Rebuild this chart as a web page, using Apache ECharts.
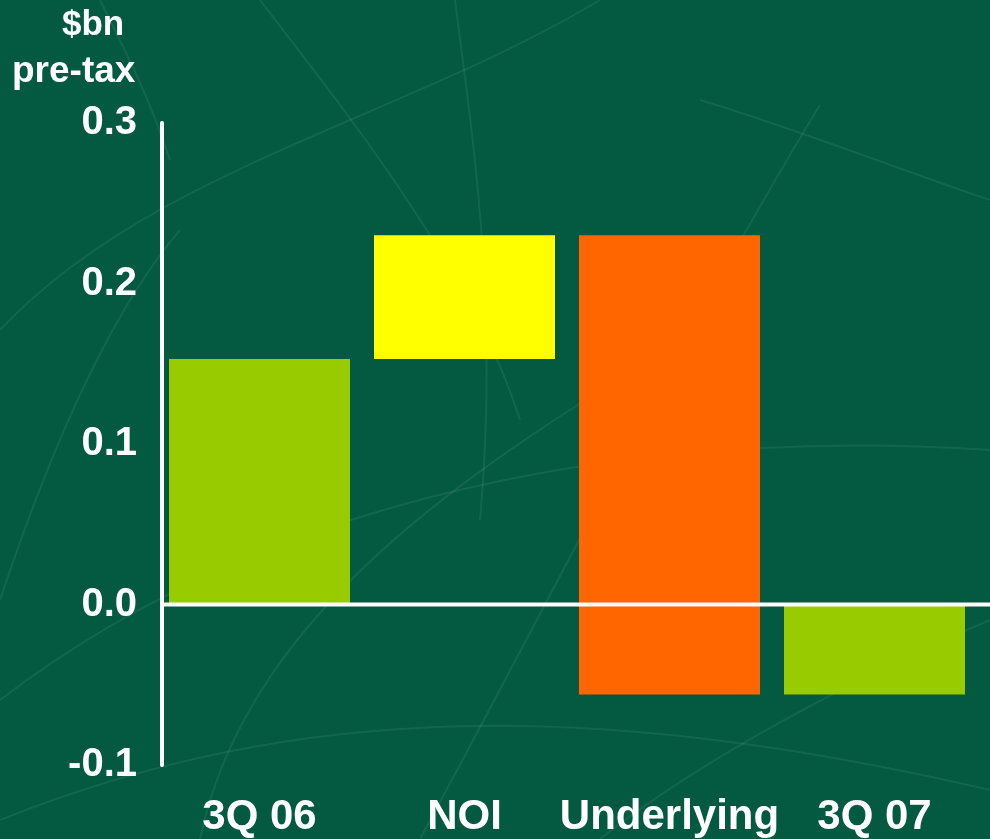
<!DOCTYPE html>
<html>
<head>
<meta charset="utf-8">
<script src="https://cdn.jsdelivr.net/npm/echarts@6/dist/echarts.min.js"></script>
<style>
  html, body { margin: 0; padding: 0; background: #035a41; }
  #chart { width: 990px; height: 839px; }
</style>
</head>
<body>
<div id="chart"></div>
<script>
// waterfall steps: each bar runs from low to high
var categories = ["3Q 06", "NOI", "Underlying", "3Q 07"];
var lows = [0, 0.153, -0.056, -0.056];
var highs = [0.153, 0.230, 0.230, 0];
var barColors = ["#99cc00", "#ffff00", "#ff6600", "#99cc00"];
var yTicks = [-0.1, 0.0, 0.1, 0.2, 0.3];

var myChart = echarts.init(document.getElementById("chart"));

// split each step into a transparent base plus a positive and a negative part
var baseData = [], posData = [], negData = [];
for (var i = 0; i < categories.length; i++) {
  var lo = lows[i], hi = highs[i];
  if (lo >= 0) {
    baseData.push(lo);
    posData.push({ value: +(hi - lo).toFixed(4), itemStyle: { color: barColors[i] } });
    negData.push("-");
  } else if (hi <= 0) {
    baseData.push(hi);
    posData.push("-");
    negData.push({ value: +(lo - hi).toFixed(4), itemStyle: { color: barColors[i] } });
  } else {
    baseData.push(0);
    posData.push({ value: hi, itemStyle: { color: barColors[i] } });
    negData.push({ value: lo, itemStyle: { color: barColors[i] } });
  }
}

var font = "Liberation Sans, Arial, sans-serif";
var faint = "rgba(255,255,255,0.07)";

function curve(x1, y1, cx1, cy1, cx2, cy2, x2, y2) {
  return {
    type: "bezierCurve",
    silent: true,
    z: -10,
    shape: { x1: x1, y1: y1, cpx1: cx1, cpy1: cy1, cpx2: cx2, cpy2: cy2, x2: x2, y2: y2 },
    style: { stroke: faint, lineWidth: 2, fill: null }
  };
}

var option = {
  backgroundColor: "#035a41",
  animation: false,
  grid: { left: 157, right: 13, top: 123, bottom: 74 },
  xAxis: {
    type: "category",
    data: categories,
    axisLine: { show: false },
    axisTick: { show: false },
    axisLabel: {
      color: "#ffffff",
      fontFamily: font,
      fontWeight: "bold",
      fontSize: 42,
      margin: 31,
      interval: 0
    }
  },
  yAxis: {
    type: "value",
    min: -0.1,
    max: 0.3,
    interval: 0.1,
    offset: -5,
    axisLine: { show: true, lineStyle: { color: "#ffffff", width: 4 } },
    axisTick: { show: false },
    splitLine: { show: false },
    axisLabel: {
      color: "#ffffff",
      fontFamily: font,
      fontWeight: "bold",
      fontSize: 40,
      margin: 25,
      formatter: function (v) { return v.toFixed(1); }
    }
  },
  series: [
    {
      type: "bar",
      stack: "w",
      barWidth: 181,
      data: baseData,
      itemStyle: { color: "transparent" },
      silent: true
    },
    {
      type: "bar",
      stack: "w",
      barWidth: 181,
      data: posData
    },
    {
      type: "bar",
      stack: "w",
      barWidth: 181,
      data: negData
    }
  ],
  graphic: [
    curve(100, 0, 130, 60, 150, 100, 170, 160),
    curve(260, 0, 320, 80, 470, 260, 520, 420),
    curve(455, 0, 470, 120, 500, 300, 480, 520),
    curve(0, 330, 150, 170, 400, 120, 600, 0),
    curve(200, 839, 250, 600, 500, 450, 700, 330),
    curve(820, 105, 700, 300, 550, 600, 420, 839),
    curve(0, 700, 300, 470, 700, 430, 990, 450),
    curve(0, 820, 300, 700, 600, 700, 990, 790),
    curve(600, 839, 700, 760, 850, 680, 990, 620),
    curve(0, 600, 60, 420, 120, 300, 180, 230),
    curve(990, 200, 900, 170, 800, 130, 700, 100),
    {
      type: "text",
      left: 62,
      top: 8,
      style: { text: "$bn", fill: "#ffffff", font: "bold 35px " + font }
    },
    {
      type: "text",
      left: 12,
      top: 53,
      style: { text: "pre-tax", fill: "#ffffff", font: "bold 37px " + font }
    }
  ]
};

myChart.setOption(option);

// zero line runs from the y axis to the right edge of the page
var zeroY = myChart.convertToPixel({ yAxisIndex: 0 }, 0);
myChart.setOption({
  graphic: option.graphic.concat([{
    type: "line",
    silent: true,
    shape: { x1: 162, y1: zeroY, x2: 990, y2: zeroY },
    style: { stroke: "#ffffff", lineWidth: 4 },
    z: 100
  }])
});

window.addEventListener("resize", function () {
  myChart.resize();
});
</script>
</body>
</html>
